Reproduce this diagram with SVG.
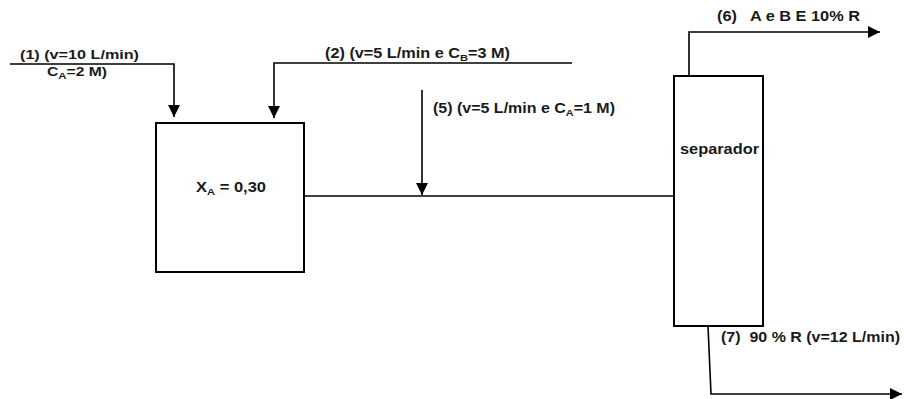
<svg xmlns="http://www.w3.org/2000/svg" width="904" height="399" viewBox="0 0 904 399">
<style>
text{font-family:"Liberation Sans",Arial,sans-serif;font-weight:bold;font-size:14px;fill:#1a1a1a}
.s1{font-size:13px}
.sub{font-size:9.5px}
.box{fill:#fff;stroke:#000;stroke-width:2}
.ln{fill:none;stroke:#000;stroke-width:1.6}
</style>
<defs>
<marker id="ah" markerUnits="userSpaceOnUse" markerWidth="12" markerHeight="12" refX="11" refY="5.5" orient="auto" viewBox="0 0 11 11">
<path d="M0,0 L11,5.5 L0,11 z" fill="#000"/>
</marker>
</defs>
<rect width="904" height="399" fill="#fff"/>
<g id="connectors">
<polyline class="ln" points="10,64 174,64 174,117" marker-end="url(#ah)"/>
<polyline class="ln" points="572,63 274,63 274,118" marker-end="url(#ah)"/>
<line class="ln" x1="422" y1="90" x2="422" y2="195" marker-end="url(#ah)"/>
<line class="ln" x1="304" y1="196" x2="674" y2="196"/>
<polyline class="ln" points="689,76 689,32 880,32" marker-end="url(#ah)"/>
<polyline class="ln" points="708,326 711,394 902,394" marker-end="url(#ah)"/>
</g>
<g id="reactor">
<rect class="box" x="156" y="123" width="148" height="149"/>
<text x="196" y="192" textLength="70" lengthAdjust="spacingAndGlyphs">X<tspan class="sub" dy="3">A</tspan><tspan dy="-3"> = 0,30</tspan></text>
</g>
<g id="separador">
<rect class="box" x="674" y="76" width="89" height="250"/>
<text x="680" y="154" textLength="79" lengthAdjust="spacingAndGlyphs">separador</text>
</g>
<g id="labels">
<text class="s1" x="20" y="59" textLength="119" lengthAdjust="spacingAndGlyphs">(1) (v=10 L/min)</text>
<text class="s1" x="47" y="76" textLength="60" lengthAdjust="spacingAndGlyphs">C<tspan class="sub" dy="3">A</tspan><tspan dy="-3">=2 M)</tspan></text>
<text x="325" y="58" textLength="185" lengthAdjust="spacingAndGlyphs">(2) (v=5 L/min e C<tspan class="sub" dy="3">B</tspan><tspan dy="-3">=3 M)</tspan></text>
<text x="433" y="113" textLength="182" lengthAdjust="spacingAndGlyphs">(5) (v=5 L/min e C<tspan class="sub" dy="3">A</tspan><tspan dy="-3">=1 M)</tspan></text>
<text x="717" y="21" textLength="143" lengthAdjust="spacingAndGlyphs" xml:space="preserve">(6)   A e B E 10% R</text>
<text x="721" y="342" textLength="179" lengthAdjust="spacingAndGlyphs" xml:space="preserve">(7)  90 % R (v=12 L/min)</text>
</g>
</svg>
